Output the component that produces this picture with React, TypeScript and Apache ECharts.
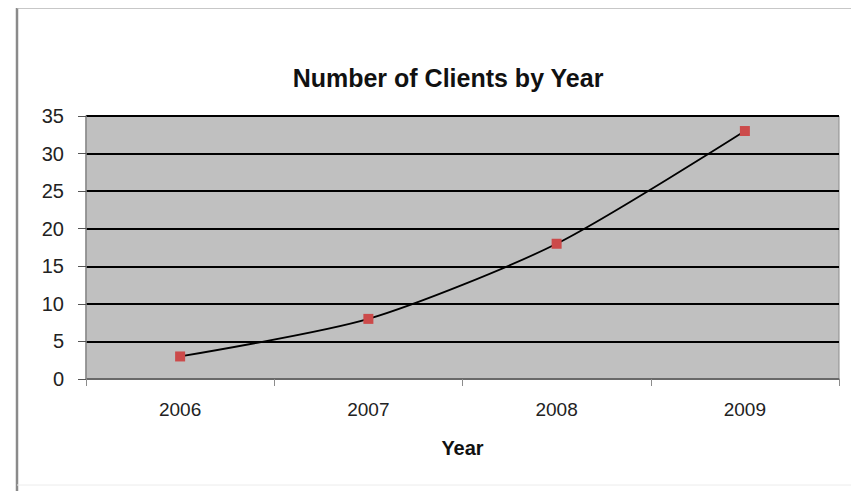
import React, { useEffect, useRef } from "react";
import * as echarts from "echarts";

const years = ["2006", "2007", "2008", "2009"];
const clients = [3, 8, 18, 33];
const yTicks = [0, 35, 5];

export default function App() {
  const ref = useRef<HTMLDivElement>(null);
  useEffect(() => {
    const chart = echarts.init(ref.current!, null, { renderer: "svg" });
    chart.setOption({
      animation: false,
      backgroundColor: "#ffffff",
      title: {
        text: "Number of Clients by Year",
        left: 435,
        top: 52,
        textAlign: "center",
        textStyle: { fontFamily: "Liberation Sans", fontSize: 25, fontWeight: "bold", color: "#111" },
      },
      graphic: [
        { type: "line", shape: { x1: 9, y1: 0, x2: 9, y2: 483 }, style: { stroke: "#8a8a8a", lineWidth: 2.5 } },
        { type: "line", shape: { x1: 9, y1: 0, x2: 851, y2: 0 }, style: { stroke: "#b5b5b5", lineWidth: 1.5 } },
        { type: "line", shape: { x1: 847, y1: 0, x2: 847, y2: 477 }, style: { stroke: "#e6e6e6", lineWidth: 1 } },
        { type: "line", shape: { x1: 9, y1: 477, x2: 847, y2: 477 }, style: { stroke: "#ececec", lineWidth: 1 } },
      ],
      grid: {
        left: 78,
        top: 108,
        right: 20,
        bottom: 112,
        show: true,
        backgroundColor: "#c0c0c0",
        borderColor: "#8c8c8c",
        borderWidth: 1,
      },
      xAxis: {
        type: "category",
        data: years,
        boundaryGap: true,
        name: "Year",
        nameLocation: "middle",
        nameGap: 59,
        nameTextStyle: { fontFamily: "Liberation Sans", fontSize: 20, fontWeight: "bold", color: "#111" },
        axisLine: { lineStyle: { color: "#8c8c8c", width: 1.5 } },
        axisTick: { show: true, length: 7, alignWithLabel: false, lineStyle: { color: "#8c8c8c" } },
        axisLabel: { fontFamily: "Liberation Sans", fontSize: 19, color: "#222", margin: 21 },
        splitLine: { show: false },
      },
      yAxis: {
        type: "value",
        min: yTicks[0],
        max: yTicks[1],
        interval: yTicks[2],
        axisLine: { show: true, lineStyle: { color: "#8c8c8c", width: 1.5 } },
        axisTick: { show: true, length: 8, lineStyle: { color: "#555" } },
        axisLabel: { fontFamily: "Liberation Sans", fontSize: 20, color: "#222", margin: 22 },
        splitLine: { show: true, lineStyle: { color: "#000", width: 1.8 } },
      },
      series: [
        {
          type: "line",
          data: clients,
          smooth: 0.25,
          symbol: "rect",
          symbolSize: 10,
          itemStyle: { color: "#cc4a4a" },
          lineStyle: { color: "#000", width: 1.8 },
        },
      ],
    });
    return () => chart.dispose();
  }, []);
  return <div ref={ref} style={{ width: 851, height: 483 }} />;
}
